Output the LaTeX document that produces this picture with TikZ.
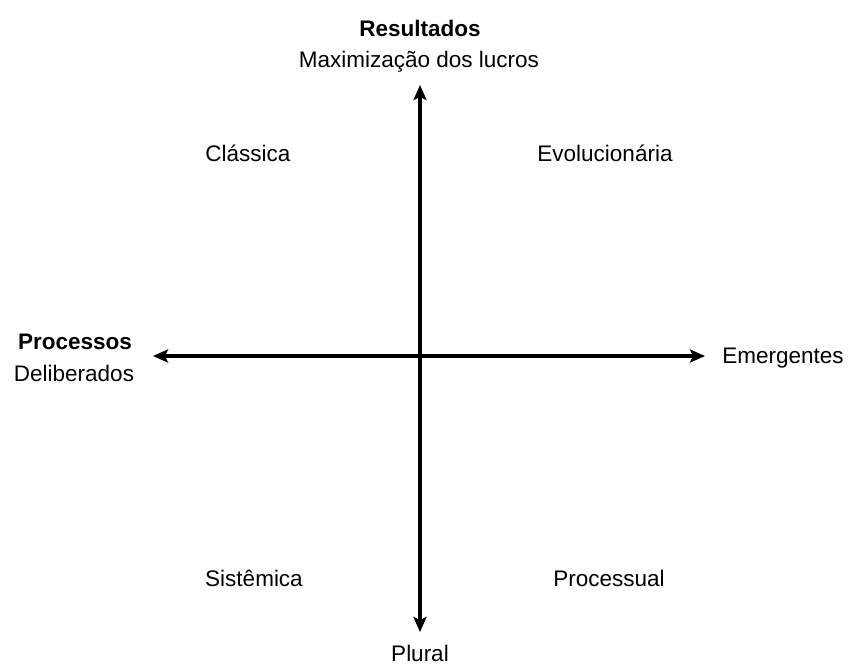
\documentclass[tikz,border=0pt]{standalone}
\usepackage{fontspec}
\setmainfont{Liberation Sans}
\usetikzlibrary{arrows.meta}
\begin{document}
\begin{tikzpicture}[x=1pt,y=-1pt,
  lbl/.style={anchor=base,inner sep=0pt,font=\fontsize{22.5}{27}\selectfont},
  lblb/.style={lbl,font=\fontsize{22.5}{27}\selectfont\bfseries},
  axis/.style={line width=3.4pt,
    arrows={Stealth[length=15pt,width=13pt,inset=3pt]-Stealth[length=15pt,width=13pt,inset=3pt]}}]
  \useasboundingbox[fill=white] (0,0) rectangle (848,664);
  % axis end points
  \coordinate (top) at (420,85);
  \coordinate (bottom) at (420,632);
  \coordinate (left) at (153,356);
  \coordinate (right) at (705,356);
  \draw[axis] (top) -- (bottom);
  \draw[axis] (left) -- (right);
  % axis labels
  \node[lblb] (res) at (420,36) {Resultados};
  \node[lbl] (max) at (419,67) {Maximização dos lucros};
  \node[lblb] (proc) at (75,349) {Processos};
  \node[lbl] (delib) at (74,381) {Deliberados};
  \node[lbl] (emer) at (783,363) {Emergentes};
  \node[lbl] (plural) at (420,661) {Plural};
  % quadrant labels
  \node[lbl] (classica) at (248,161) {Clássica};
  \node[lbl] (evol) at (605,161) {Evolucionária};
  \node[lbl] (sist) at (254,586) {Sistêmica};
  \node[lbl] (procs) at (609,586) {Processual};
\end{tikzpicture}
\end{document}
